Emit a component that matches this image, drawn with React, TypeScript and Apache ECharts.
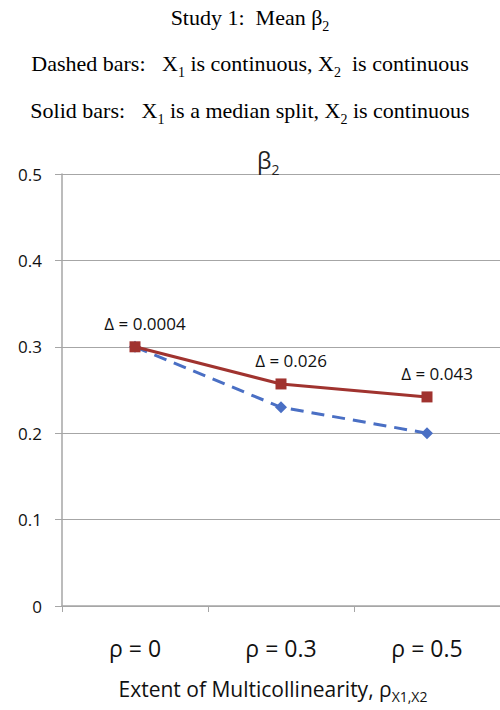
import React, { useEffect, useRef } from "react";
import * as echarts from "echarts";

const categories = ["ρ = 0", "ρ = 0.3", "ρ = 0.5"];
const dashedValues = [0.3, 0.23, 0.2];
const solidValues = [0.3, 0.257, 0.242];
const deltaLabels = ["Δ = 0.0004", "Δ = 0.026", "Δ = 0.043"];
const yTicks = [0, 0.1, 0.2, 0.3, 0.4, 0.5];

const serif = "'Liberation Serif', 'Times New Roman', serif";
const sans = "'Open Sans', 'Noto Sans', sans-serif";

export default function App() {
  const ref = useRef<HTMLDivElement>(null);
  useEffect(() => {
    if (!ref.current) return;
    const chart = echarts.init(ref.current, null, { renderer: "svg" });
    const titleRich = {
      n: { fontFamily: serif, fontSize: 22, fontWeight: "normal", color: "#000", verticalAlign: "bottom", lineHeight: 26 },
      s: { fontFamily: serif, fontSize: 14, fontWeight: "normal", color: "#000", verticalAlign: "bottom", lineHeight: 26, padding: [0, 0, -5, 0] },
    };
    chart.setOption({
      animation: false,
      title: [
        { text: "{n|Study 1:  Mean β}{s|2}", left: "center", top: -3, textStyle: { fontWeight: "normal", rich: titleRich } },
        { text: "{n|Dashed bars:   X}{s|1}{n| is continuous, X}{s|2}{n|  is continuous}", left: "center", top: 43, textStyle: { fontWeight: "normal", rich: titleRich } },
        { text: "{n|Solid bars:   X}{s|1}{n| is a median split, X}{s|2}{n| is continuous}", left: "center", top: 90, textStyle: { fontWeight: "normal", rich: titleRich } },
        {
          text: "{n|β}{s|2}",
          left: 252,
          top: 140,
          textStyle: {
            fontWeight: "normal",
            rich: {
              n: { fontFamily: sans, fontSize: 23, fontWeight: "normal", color: "#222", verticalAlign: "bottom", lineHeight: 26 },
              s: { fontFamily: sans, fontSize: 14, fontWeight: "normal", color: "#222", verticalAlign: "bottom", lineHeight: 26, padding: [0, 0, -5, 0] },
            },
          },
        },
      ],
      grid: { left: 62, right: 0, top: 174, bottom: 104, containLabel: false, outerBoundsMode: "none" },
      xAxis: {
        type: "category",
        data: categories,
        boundaryGap: true,
        axisLine: { show: true, lineStyle: { color: "#a6a6a6", width: 1.5 } },
        axisTick: { show: true, length: 6, lineStyle: { color: "#a6a6a6" } },
        axisLabel: { fontFamily: sans, fontSize: 23, color: "#111", margin: 30 },
        name: "{n|Extent of Multicollinearity, ρ}{s|X1,X2}",
        nameLocation: "middle",
        nameGap: 69,
        nameTextStyle: {
          padding: [0, 16, 0, 0],
          rich: {
            n: { fontFamily: sans, fontSize: 21, color: "#111", verticalAlign: "bottom", lineHeight: 24 },
            s: { fontFamily: sans, fontSize: 14, color: "#111", verticalAlign: "bottom", lineHeight: 24, padding: [0, 0, -4, 0] },
          },
        },
      },
      yAxis: {
        type: "value",
        min: 0,
        max: 0.5,
        interval: 0.1,
        axisLine: { show: true, lineStyle: { color: "#a6a6a6", width: 1.5 } },
        axisTick: { show: true, length: 7, lineStyle: { color: "#a6a6a6" } },
        axisLabel: {
          fontFamily: sans,
          fontSize: 17,
          color: "#111",
          margin: 20,
          formatter: (v: number) => (yTicks.includes(Math.round(v * 10) / 10) ? (v === 0 ? "0" : v.toFixed(1)) : ""),
        },
        splitLine: { show: true, lineStyle: { color: "#a6a6a6", width: 1.2 } },
      },
      series: [
        {
          name: "Dashed",
          type: "line",
          data: dashedValues,
          symbol: "diamond",
          symbolSize: 12,
          lineStyle: { color: "#4a6fc4", width: 3, type: [13, 8] },
          itemStyle: { color: "#4a6fc4" },
          z: 2,
        },
        {
          name: "Solid",
          type: "line",
          data: solidValues,
          symbol: "rect",
          symbolSize: 11,
          lineStyle: { color: "#a0332f", width: 3 },
          itemStyle: { color: "#a0332f" },
          z: 3,
          label: {
            show: true,
            position: "top",
            offset: [10, -4],
            fontFamily: sans,
            fontSize: 17,
            color: "#111",
            formatter: (p: any) => deltaLabels[p.dataIndex],
          },
        },
      ],
    });
    return () => chart.dispose();
  }, []);
  return <div ref={ref} style={{ width: 500, height: 710, position: "absolute", left: 0, top: 0 }} />;
}
